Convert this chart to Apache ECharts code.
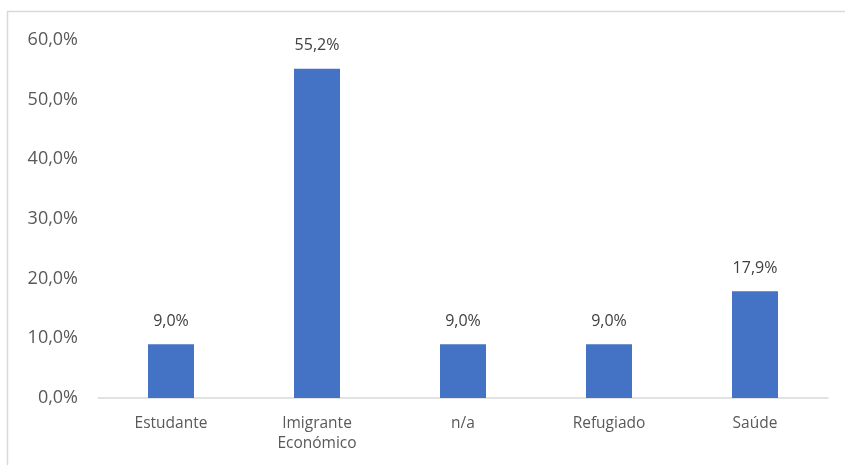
<!DOCTYPE html>
<html>
<head>
<meta charset="utf-8">
<script src="https://cdn.jsdelivr.net/npm/echarts@6/dist/echarts.min.js"></script>
<style>
html,body{margin:0;padding:0;background:#fff;}
#chart{width:845px;height:465px;}
</style>
</head>
<body>
<div id="chart"></div>
<script>
const categories = ["Estudante", "Imigrante\nEconómico", "n/a", "Refugiado", "Saúde"];
const values = [9.0, 55.2, 9.0, 9.0, 17.9];
const yTicks = { min: 0, max: 60, interval: 10 };

const fmt = v => v.toFixed(1).replace('.', ',') + '%';
const font = '"Open Sans", "Noto Sans", sans-serif';

const chart = echarts.init(document.getElementById('chart'), null, { renderer: 'canvas' });
chart.setOption({
  animation: false,
  backgroundColor: '#ffffff',
  graphic: [{
    type: 'rect',
    shape: { x: 7.5, y: 11.5, width: 900, height: 500 },
    style: { fill: 'none', stroke: '#d9d9d9', lineWidth: 1.5 },
    silent: true
  }],
  grid: { left: 98, right: 17, top: 40, bottom: 67, containLabel: false },
  xAxis: {
    type: 'category',
    data: categories,
    axisLine: { show: true, lineStyle: { color: '#d9d9d9', width: 1.5 } },
    axisTick: { show: false },
    axisLabel: {
      color: '#595959', fontSize: 15.5, fontFamily: font, margin: 16, lineHeight: 20, interval: 0
    }
  },
  yAxis: {
    type: 'value',
    min: yTicks.min, max: yTicks.max, interval: yTicks.interval,
    axisLine: { show: false },
    axisTick: { show: false },
    splitLine: { show: false },
    axisLabel: {
      color: '#595959', fontSize: 18, fontFamily: font, margin: 20,
      formatter: v => fmt(v)
    }
  },
  series: [{
    type: 'bar',
    data: values,
    barWidth: '31.5%',
    itemStyle: { color: '#4472c4' },
    label: {
      show: true, position: 'top', distance: 15,
      color: '#404040', fontSize: 16, fontFamily: font,
      formatter: p => fmt(p.value)
    }
  }]
});
</script>
</body>
</html>
